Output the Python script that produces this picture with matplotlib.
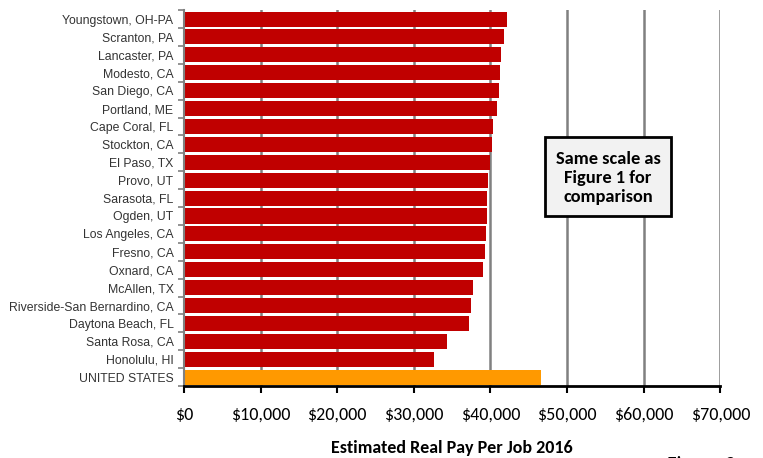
import matplotlib.pyplot as plt
from matplotlib.patches import Rectangle
import numpy as np

# Metro areas (top to bottom) and estimated real pay per job, 2016
metros = ['Youngstown, OH-PA', 'Scranton, PA', 'Lancaster, PA', 'Modesto, CA',
          'San Diego, CA', 'Portland, ME', 'Cape Coral, FL', 'Stockton, CA',
          'El Paso, TX', 'Provo, UT', 'Sarasota, FL', 'Ogden, UT',
          'Los Angeles, CA', 'Fresno, CA', 'Oxnard, CA', 'McAllen, TX',
          'Riverside-San Bernardino, CA', 'Daytona Beach, FL', 'Santa Rosa, CA',
          'Honolulu, HI', 'UNITED STATES']
pay = [42200, 41800, 41400, 41200, 41100, 40800, 40300, 40200, 39900, 39700,
       39500, 39500, 39400, 39300, 39000, 37700, 37500, 37200, 34300, 32600,
       46600]
xticks = [0, 10000, 20000, 30000, 40000, 50000, 60000, 70000]
xticklabels = ['$0', '$10,000', '$20,000', '$30,000', '$40,000', '$50,000',
               '$60,000', '$70,000']

num_font = ['Carlito', 'Lato', 'DejaVu Sans']
name_font = ['Liberation Sans Narrow', 'Liberation Sans', 'DejaVu Sans']

fig = plt.figure(figsize=(7.63, 4.58), dpi=100)
ax = fig.add_axes([0.241, 0.157, 0.703, 0.821])

n = len(metros)
ypos = np.arange(n)
colors = ['#c00000'] * (n - 1) + ['#ff9900']
ax.barh(ypos, pay, height=0.84, color=colors, zorder=3)

ax.set_ylim(n - 0.5, -0.5)
ax.set_xlim(0, 70000)

# Gridlines
for x in xticks[1:]:
    ax.axvline(x, color='#808080', lw=1.8, zorder=1)

ax.set_yticks(ypos)
ax.set_yticklabels(metros, fontfamily=name_font, fontsize=8.8, color='#333333')
ax.set_yticks(np.arange(-0.5, n, 1), minor=True)
ax.tick_params(axis='y', which='major', length=0, pad=7.5)
ax.tick_params(axis='y', which='minor', length=4, width=1.2, color='#808080')

ax.set_xticks(xticks)
ax.set_xticklabels(xticklabels, fontfamily=num_font, fontsize=13)
ax.tick_params(axis='x', length=5, width=1.5, pad=10, direction='out')

for s in ['top', 'right']:
    ax.spines[s].set_visible(False)
ax.spines['left'].set_color('#808080')
ax.spines['left'].set_linewidth(1.5)
ax.spines['bottom'].set_linewidth(2)
ax.spines['left'].set_zorder(4)
ax.spines['bottom'].set_zorder(4)

ax.set_xlabel('Estimated Real Pay Per Job 2016', fontfamily=num_font,
              fontsize=13, fontweight='bold', labelpad=12)

# Annotation box
bx, by, bw, bh = 545 / 763, 1 - 216 / 458, 126 / 763, 79 / 458
fig.patches.append(Rectangle((bx, by), bw, bh, transform=fig.transFigure,
                             facecolor='#f2f2f2', edgecolor='black', lw=2,
                             zorder=5))
fig.text(bx + bw / 2, by + bh / 2 - 0.003, 'Same scale as\nFigure 1 for\ncomparison',
         ha='center', va='center', fontfamily=num_font, fontsize=13.2,
         fontweight='bold', linespacing=1.25, zorder=6)

fig.text(666 / 763, -0.026, 'Figure 2', fontfamily=num_font, fontsize=15,
         style='italic', ha='left', va='baseline')

fig.savefig('out.png', dpi=100)
